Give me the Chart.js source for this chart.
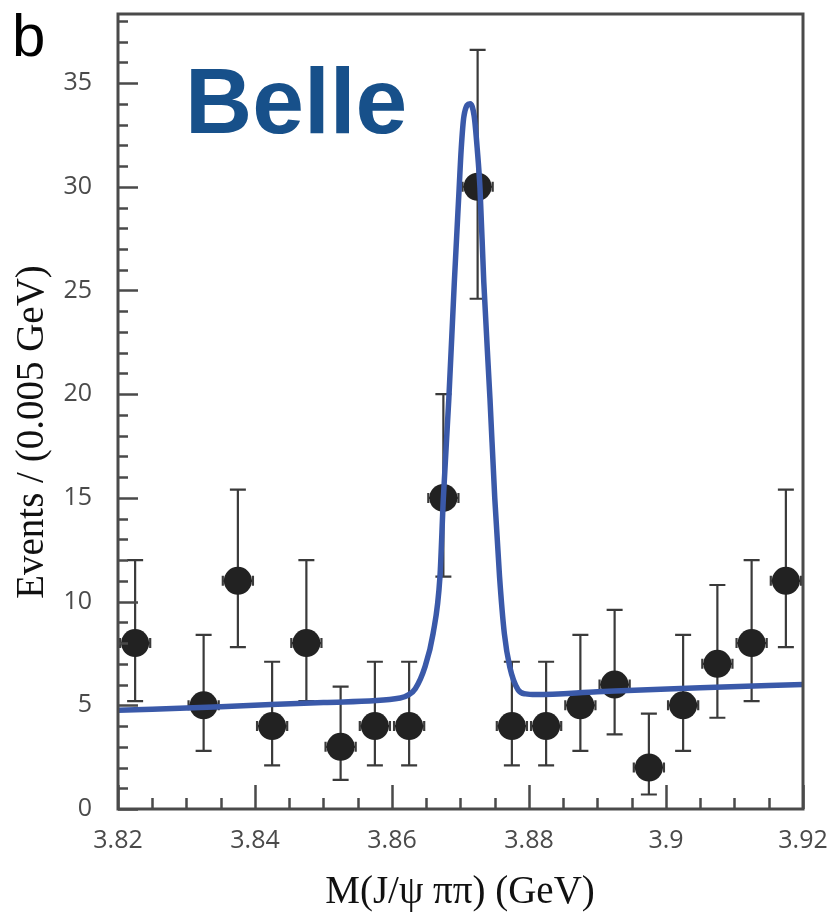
<!DOCTYPE html>
<html>
<head>
<meta charset="utf-8">
<script src="https://cdn.jsdelivr.net/npm/chart.js@4.4.1/dist/chart.umd.min.js"></script>
<style>
  html, body { margin: 0; padding: 0; background: #fff; }
</style>
</head>
<body>
<canvas id="chart" width="831" height="913"></canvas>
<script>
// Bin centres (GeV) and events per 0.005 GeV bin
const massBins = [3.8225, 3.8325, 3.8375, 3.8425, 3.8475, 3.8525, 3.8575, 3.8625, 3.8675, 3.8725,
                  3.8775, 3.8825, 3.8875, 3.8925, 3.8975, 3.9025, 3.9075, 3.9125, 3.9175];
const events = [8, 5, 11, 4, 8, 3, 4, 4, 15, 30, 4, 4, 5, 6, 2, 5, 7, 8, 11];
const errHigh = [12.0, 8.4, 15.4, 7.1, 12.0, 5.9, 7.1, 7.1, 20.0, 36.6, 7.1, 7.1, 8.4, 9.6, 4.6, 8.4, 10.8, 12.0, 15.4];
const errLow = [5.2, 2.8, 7.8, 2.1, 5.2, 1.4, 2.1, 2.1, 11.2, 24.6, 2.1, 2.1, 2.8, 3.6, 0.7, 2.8, 4.4, 5.2, 7.8];
const binHalfWidth = 0.0022;

// Fit curve
const fitMass = [3.82, 3.835, 3.85, 3.8612, 3.8624, 3.8634, 3.8648, 3.8660, 3.8670, 3.8675, 3.8683, 3.8691,
                 3.8698, 3.8701, 3.8705, 3.8714, 3.8720, 3.87245, 3.87285, 3.8734, 3.8743, 3.8750, 3.8757,
                 3.8764, 3.8772, 3.8784, 3.8795, 3.881, 3.89, 3.905, 3.92];
const fitEvents = [4.76, 4.93, 5.14, 5.35, 5.5, 5.8, 6.84, 8.46, 11.2, 15.0, 19.8, 25.4,
                   29.9, 31.8, 33.4, 34.0, 33.4, 31.8, 29.9, 25.4, 19.8, 15.0, 11.2,
                   8.46, 6.84, 5.75, 5.55, 5.52, 5.65, 5.85, 6.0];

// Axes
const xTickLabels = ['3.82', '3.84', '3.86', '3.88', '3.9', '3.92'];
const xMin = 3.82, xMax = 3.92, xStep = 0.02;
const yMin = 0, yMax = 38.33, yStep = 5;

const axisColor = '#4a4a4a';

const errorBars = {
    id: 'errorBars',
    beforeDatasetsDraw(chart) {
        const { ctx, scales: { x, y } } = chart;
        ctx.save();
        ctx.strokeStyle = '#3a3a3a';
        ctx.lineWidth = 2.2;
        massBins.forEach((m, i) => {
            const px = x.getPixelForValue(m);
            const top = y.getPixelForValue(errHigh[i]);
            const bot = y.getPixelForValue(errLow[i]);
            const py = y.getPixelForValue(events[i]);
            const xl = x.getPixelForValue(m - binHalfWidth);
            const xr = x.getPixelForValue(m + binHalfWidth);
            ctx.beginPath();
            ctx.moveTo(px, top); ctx.lineTo(px, bot);
            ctx.moveTo(px - 8, top); ctx.lineTo(px + 8, top);
            ctx.moveTo(px - 8, bot); ctx.lineTo(px + 8, bot);
            ctx.moveTo(xl, py); ctx.lineTo(xr, py);
            ctx.moveTo(xl, py - 5); ctx.lineTo(xl, py + 5);
            ctx.moveTo(xr, py - 5); ctx.lineTo(xr, py + 5);
            ctx.stroke();
        });
        ctx.restore();
    }
};

const frameAndText = {
    id: 'frameAndText',
    afterDraw(chart) {
        const { ctx, chartArea: a, scales: { x, y } } = chart;
        ctx.save();
        ctx.strokeStyle = axisColor;

        // inward tick marks
        ctx.lineWidth = 2.5;
        ctx.beginPath();
        for (let v = 0; v <= 38; v++) {
            const py = Math.round(y.getPixelForValue(v)) + 0.5;
            const len = v % 5 === 0 ? 20 : 10;
            ctx.moveTo(a.left, py); ctx.lineTo(a.left + len, py);
        }
        for (let k = 0; k <= 20; k++) {
            const px = Math.round(x.getPixelForValue(xMin + k * 0.005)) + 0.5;
            const len = k % 4 === 0 ? 24 : 11;
            ctx.moveTo(px, a.bottom); ctx.lineTo(px, a.bottom - len);
        }
        ctx.stroke();

        // frame
        ctx.lineWidth = 3;
        ctx.strokeRect(a.left, a.top, a.right - a.left, a.bottom - a.top);

        // axis titles
        ctx.fillStyle = '#111';
        ctx.font = '39px "Liberation Serif", serif';
        ctx.textAlign = 'center';
        ctx.textBaseline = 'alphabetic';
        ctx.fillText('M(J/\u03C8 \u03C0\u03C0) (GeV)', 460, 903);
        ctx.save();
        ctx.translate(43, 432);
        ctx.rotate(-Math.PI / 2);
        ctx.fillText('Events / (0.005 GeV)', 0, 0);
        ctx.restore();

        // panel letter and experiment label
        ctx.textAlign = 'left';
        ctx.fillStyle = '#000';
        ctx.font = '60px "Liberation Sans", sans-serif';
        ctx.fillText('b', 12, 56);
        ctx.fillStyle = '#17508a';
        ctx.font = 'bold 93px "Liberation Sans", sans-serif';
        ctx.fillText('Belle', 185, 133);
        ctx.restore();
    }
};

new Chart(document.getElementById('chart').getContext('2d'), {
    type: 'scatter',
    data: {
        datasets: [
            {
                label: 'Fit',
                data: fitMass.map((m, i) => ({ x: m, y: fitEvents[i] })),
                showLine: true,
                borderColor: '#3a59a9',
                borderWidth: 5.5,
                pointRadius: 0,
                cubicInterpolationMode: 'monotone',
                fill: false
            },
            {
                label: 'Data',
                data: massBins.map((m, i) => ({ x: m, y: events[i] })),
                backgroundColor: '#222',
                borderColor: '#222',
                borderWidth: 0,
                pointRadius: 14
            }
        ]
    },
    options: {
        responsive: false,
        devicePixelRatio: 1,
        animation: false,
        layout: { padding: { top: 12, right: 28, left: 0, bottom: 0 } },
        plugins: { legend: { display: false }, tooltip: { enabled: false } },
        scales: {
            x: {
                type: 'linear',
                min: xMin,
                max: xMax,
                grid: { display: false },
                border: { display: false },
                ticks: {
                    stepSize: xStep,
                    maxRotation: 0,
                    padding: 9,
                    color: axisColor,
                    font: { family: '"Open Sans", sans-serif', size: 25 },
                    callback: v => xTickLabels[Math.round((v - xMin) / xStep)]
                },
                afterFit: s => { s.height = 104; s.paddingLeft = 0; s.paddingRight = 0; }
            },
            y: {
                min: yMin,
                max: yMax,
                grid: { display: false },
                border: { display: false },
                ticks: {
                    stepSize: yStep,
                    includeBounds: false,
                    padding: 18,
                    color: axisColor,
                    font: { family: '"Open Sans", sans-serif', size: 25 }
                },
                afterFit: s => { s.width = 118; s.paddingTop = 0; s.paddingBottom = 0; }
            }
        }
    },
    plugins: [errorBars, frameAndText]
});
</script>
</body>
</html>
